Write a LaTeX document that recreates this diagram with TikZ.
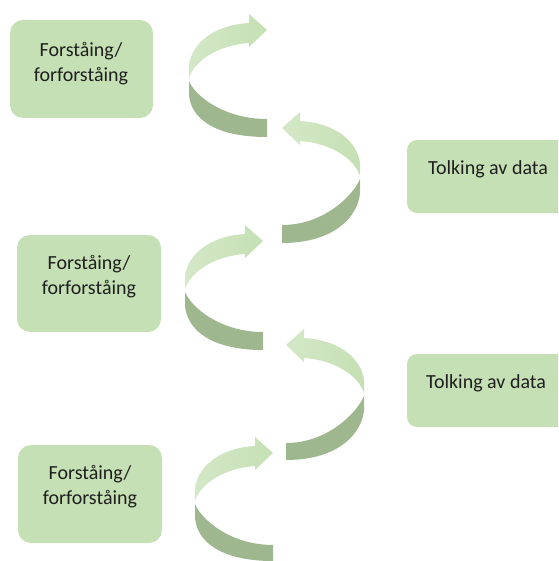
\documentclass[tikz,border=0pt]{standalone}
\usepackage{fontspec}
\setmainfont{Carlito}
\definecolor{leafpale}{HTML}{C5E0B4}
\definecolor{leafdark}{HTML}{9EB78E}
\definecolor{inktext}{HTML}{1F1F1F}
\tikzset{
  stagebox/.style={fill=leafpale, draw=none, rounded corners=13pt, inner sep=0pt},
  readbox/.style={fill=leafpale, draw=none, rounded corners=10pt, inner sep=0pt},
  stagetext/.style={font=\fontsize{20}{25}\selectfont, align=center, text=inktext, inner sep=0pt},
}
% Twisted ribbon arrow: #1,#2 = pivot point, #3 = +1 (opens right) or -1 (opens left),
% #4,#5 = upper and lower edge of the dark tail end below the pivot
\newcommand{\twistarrow}[5]{%
  \begin{scope}[shift={(#1,#2)}, xscale=#3]
    \shade[left color=leafpale!75!white, right color=leafpale]
      (0,-15) .. controls (3,-37) and (25,-55) .. (60,-57)
      -- (60,-66) -- (78,-50) -- (60,-33) -- (60,-37)
      .. controls (30,-35) and (6,-20) .. (0,-2) -- cycle;
    \fill[leafdark] (0,1) .. controls (6,16) and (35,#4) .. (78,#4)
      -- (78,#5) .. controls (25,#5) and (2,38) .. (0,15) -- cycle;
  \end{scope}}
\begin{document}
\begin{tikzpicture}[x=1pt, y=-1pt]
  \useasboundingbox (0,0) rectangle (558,561);
  \clip (0,0) rectangle (558,561);

  % understanding boxes
  \node[stagebox, minimum width=143pt, minimum height=98pt] (pre1) at (81.5,69) {};
  \node[stagebox, minimum width=144pt, minimum height=97pt] (pre2) at (89,283.5) {};
  \node[stagebox, minimum width=144pt, minimum height=98pt] (pre3) at (90,494) {};
  \node[stagetext] (pre1t) at (81,64) {Forståing/\\forforståing};
  \node[stagetext] (pre2t) at (89,277) {Forståing/\\forforståing};
  \node[stagetext] (pre3t) at (90,487) {Forståing/\\forforståing};

  % interpretation boxes
  \node[readbox, minimum width=168pt, minimum height=73pt] (read1) at (491,176.5) {};
  \node[readbox, minimum width=168pt, minimum height=73pt] (read2) at (491,390.5) {};
  \node[stagetext, anchor=base] (read1t) at (488,175) {Tolking av data};
  \node[stagetext, anchor=base] (read2t) at (486,388) {Tolking av data};

  % spiral of twisted arrows
  \twistarrow{189}{80}{1}{39}{57}
  \twistarrow{360}{178}{-1}{47}{65}
  \twistarrow{185}{291}{1}{41}{59}
  \twistarrow{364}{395}{-1}{48}{65}
  \twistarrow{195}{503}{1}{42}{58}
\end{tikzpicture}
\end{document}
